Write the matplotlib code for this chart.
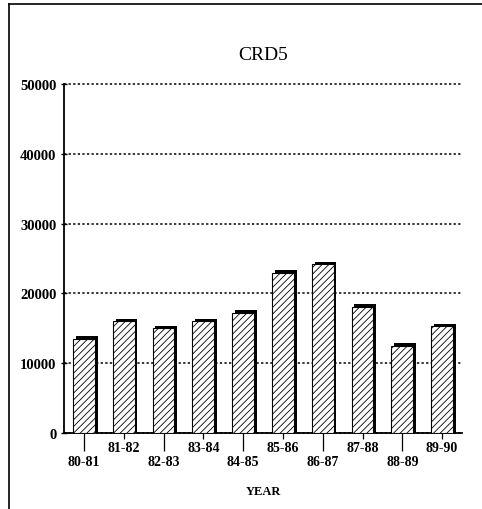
import matplotlib
matplotlib.use("Agg")
import matplotlib.pyplot as plt
from matplotlib.lines import Line2D

# data
years = ["80-81", "81-82", "82-83", "83-84", "84-85",
         "85-86", "86-87", "87-88", "88-89", "89-90"]
values = [13500, 16000, 15000, 16000, 17200, 23000, 24200, 18100, 12500, 15300]
y_ticks = [0, 10000, 20000, 30000, 40000, 50000]

plt.rcParams["font.family"] = ["Liberation Serif", "DejaVu Serif"]
plt.rcParams["hatch.color"] = "#6e6e6e"
plt.rcParams["hatch.linewidth"] = 0.6

fig = plt.figure(figsize=(4.82, 5.10), dpi=100)
ax = fig.add_axes([0.1328, 0.149, 0.8257, 0.684])

x = list(range(len(years)))
w = 0.55
# black drop shadow behind each bar (right + top edge)
shadow = [v + 380 for v in values]
ax.bar([i + 0.07 for i in x], shadow, width=w, color="black", zorder=3)
ax.bar(x, values, width=w, color="white", edgecolor="black", linewidth=0.8,
       hatch="/////", zorder=4)

ax.set_xlim(-0.5, len(years) - 0.5)
ax.set_ylim(0, 50000)
ax.set_yticks(y_ticks)
ax.set_yticklabels([str(t) for t in y_ticks], fontsize=10.5, fontweight="bold")
ax.tick_params(axis="y", direction="inout", length=5, width=1, pad=3)
ax.yaxis.grid(True, color="black", linestyle=(0, (1.5, 1.5)), linewidth=1.1)
for gl in ax.get_ygridlines():
    gl.set_clip_on(False)
ax.set_axisbelow(True)

# staggered x labels: even index low with long tick, odd index high with short tick
ax.set_xticks(x[0::2])
ax.set_xticklabels(years[0::2], fontsize=10, fontweight="bold")
ax.set_xticks(x[1::2], minor=True)
ax.set_xticklabels(years[1::2], minor=True, fontsize=10, fontweight="bold")
ax.tick_params(axis="x", which="major", direction="out", length=13, width=0.9, pad=3)
ax.tick_params(axis="x", which="minor", direction="out", length=4, width=0.9, pad=2)

for s in ("top", "right"):
    ax.spines[s].set_visible(False)
ax.spines["left"].set_linewidth(1.3)
ax.spines["bottom"].set_linewidth(1.3)

ax.set_title("CRD5", fontsize=14, pad=18)
ax.set_xlabel("YEAR", fontsize=9, fontweight="bold", labelpad=12)

# scanned page frame (top and left edge)
fig.add_artist(Line2D([9 / 482, 1.0], [1 - 5 / 510, 1 - 5 / 510], color="black",
                      linewidth=1.2, transform=fig.transFigure))
fig.add_artist(Line2D([9 / 482, 9 / 482], [0, 1 - 5 / 510], color="black",
                      linewidth=1.2, transform=fig.transFigure))

fig.savefig("out.png", dpi=100)
